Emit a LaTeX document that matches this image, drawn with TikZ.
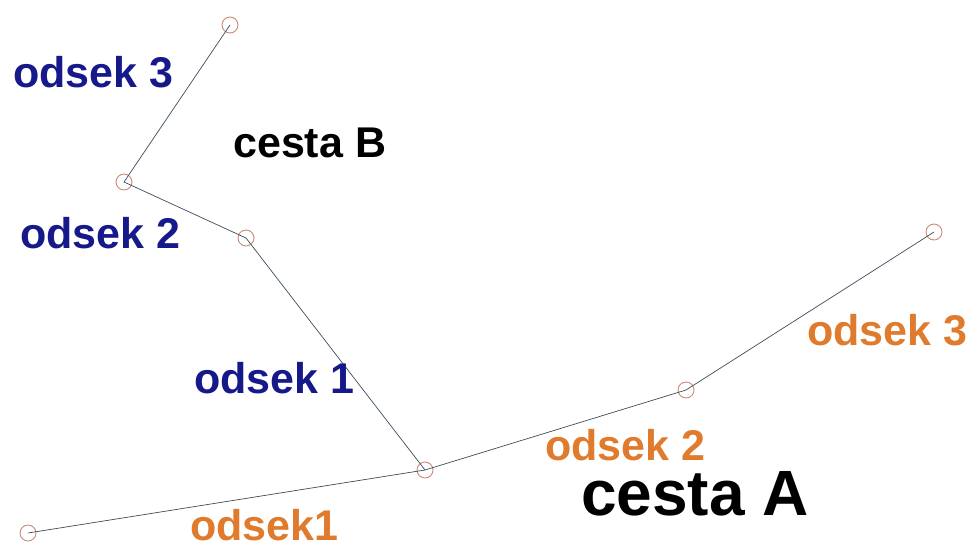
\documentclass[tikz,border=0pt]{standalone}
\usepackage{fontspec}
\setmainfont{Liberation Sans}
\definecolor{lineGray}{HTML}{3C4C5A}
\definecolor{ptRose}{HTML}{C88A78}
\definecolor{segBlue}{HTML}{16198A}
\definecolor{segOrange}{HTML}{E07A2C}
\tikzset{
  pt/.style={circle,draw=ptRose,line width=0.9pt,minimum size=16pt,inner sep=0pt},
  seg/.style={lineGray,line width=0.7pt},
  lbl/.style={anchor=base west,inner sep=0pt,font=\fontsize{43}{48}\selectfont\bfseries}
}
\begin{document}
\begin{tikzpicture}[x=1pt,y=-1pt]
    \useasboundingbox (0,0) rectangle (968,550);

    % points of cesta A
    \node[pt] (a0) at (28,533) {};
    \node[pt] (a1) at (425,470) {};
    \node[pt] (a2) at (686,390) {};
    \node[pt] (a3) at (934,232) {};

    % points of cesta B (starts at a1)
    \node[pt] (b1) at (246,238) {};
    \node[pt] (b2) at (124,182) {};
    \node[pt] (b3) at (230,25) {};

    % cesta A segments
    \draw[seg] (a0.center) -- (a1.center) -- (a2.center) -- (a3.center);

    % cesta B segments
    \draw[seg] (a1.center) -- (b1.center) -- (b2.center) -- (b3.center);

    % labels of cesta B
    \node[lbl,segBlue] (lb3) at (13,87) {odsek 3};
    \node[lbl,segBlue] (lb2) at (20,248) {odsek 2};
    \node[lbl,segBlue] (lb1) at (194,393) {odsek 1};
    \node[lbl] (cb) at (233,157) {cesta B};

    % labels of cesta A
    \node[lbl,segOrange] (la1) at (190,540) {odsek1};
    \node[lbl,segOrange] (la2) at (545,460) {odsek 2};
    \node[lbl,segOrange] (la3) at (807,345) {odsek 3};
    \node[lbl,font=\fontsize{64}{70}\selectfont\bfseries] (ca) at (581,515) {cesta A};
\end{tikzpicture}
\end{document}
